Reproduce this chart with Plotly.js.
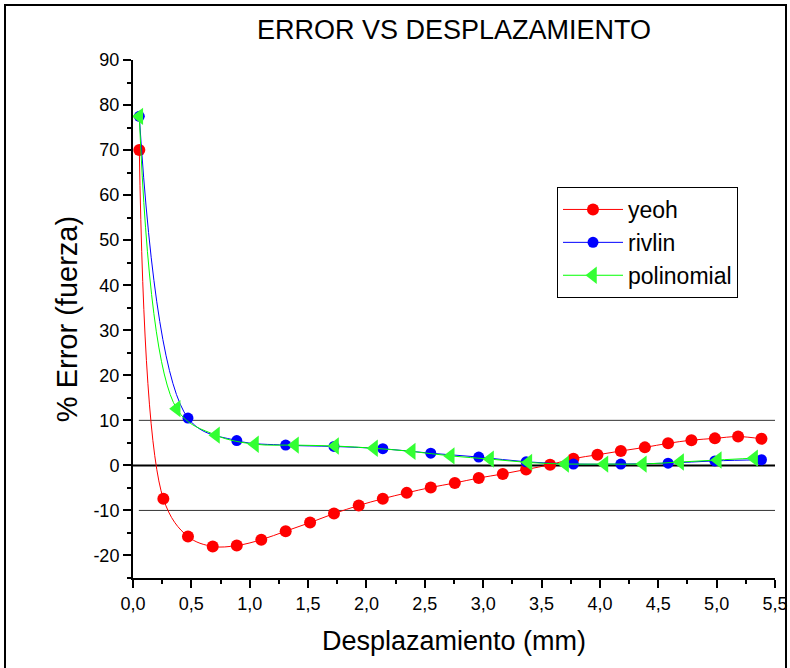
<!DOCTYPE html>
<html>
<head>
<meta charset="utf-8">
<script src="https://cdn.plot.ly/plotly-3.0.1.min.js"></script>
<style>html,body{margin:0;padding:0;background:#fff;}#chart{width:790px;height:668px;}</style>
</head>
<body>
<div id="chart"></div>
<script>
// ---- data ----
const yeohX = [0.054, 0.26, 0.471, 0.683, 0.889, 1.099, 1.308, 1.517, 1.722, 1.934, 2.14, 2.345, 2.551, 2.757, 2.962, 3.168, 3.368, 3.573, 3.773, 3.979, 4.179, 4.385, 4.584, 4.784, 4.985, 5.184, 5.384];
const yeohY = [70.0, -7.4, -15.8, -18.0, -17.8, -16.5, -14.6, -12.7, -10.7, -8.9, -7.4, -6.1, -4.9, -3.9, -2.8, -1.9, -0.9, 0.15, 1.5, 2.35, 3.2, 4.0, 4.9, 5.6, 6.0, 6.4, 5.9];

const rivlinX = [0.054, 0.471, 0.889, 1.308, 1.722, 2.14, 2.551, 2.962, 3.368, 3.773, 4.179, 4.584, 4.985, 5.384];
const rivlinY = [77.5, 10.5, 5.5, 4.5, 4.2, 3.7, 2.7, 1.85, 0.8, 0.3, 0.3, 0.5, 1.0, 1.25];

const poliX = [0.054, 0.374, 0.711, 1.045, 1.388, 1.731, 2.065, 2.388, 2.722, 3.059, 3.387, 3.702, 4.039, 4.368, 4.687, 5.01, 5.321];
const poliY = [77.5, 12.6, 6.7, 4.7, 4.5, 4.3, 3.8, 3.1, 2.1, 1.4, 0.65, 0.3, 0.3, 0.3, 0.75, 1.2, 1.6];

const seriesNames = ["yeoh", "rivlin", "polinomial"];

const refLevels = [10, 0, -10];

const xTickVals = [0, 0.5, 1, 1.5, 2, 2.5, 3, 3.5, 4, 4.5, 5, 5.5];
const xTickText = ["0,0", "0,5", "1,0", "1,5", "2,0", "2,5", "3,0", "3,5", "4,0", "4,5", "5,0", "5,5"];
const yTickVals = [-20, -10, 0, 10, 20, 30, 40, 50, 60, 70, 80, 90];
const yTickText = ["-20", "-10", "0", "10", "20", "30", "40", "50", "60", "70", "80", "90"];

// ---- chart ----
const FONT = "Liberation Sans, Arial, sans-serif";
const PL = 133, PR = 775, PT = 60, PB = 578;
const PW = PR - PL, PH = PB - PT;

const traces = [
  {x: yeohX, y: yeohY, name: seriesNames[0], type: "scatter", mode: "lines+markers",
   line: {color: "#ff0000", width: 1, shape: "spline", smoothing: 1},
   marker: {color: "#ff0000", size: 12, symbol: "circle"}},
  {x: rivlinX, y: rivlinY, name: seriesNames[1], type: "scatter", mode: "lines+markers",
   line: {color: "#0000ff", width: 1, shape: "spline", smoothing: 1},
   marker: {color: "#0000ff", size: 11, symbol: "circle"}},
  {x: poliX, y: poliY, name: seriesNames[2], type: "scatter", mode: "lines+markers",
   line: {color: "#00ff00", width: 1, shape: "spline", smoothing: 1},
   marker: {color: "#33ff33", size: 15, symbol: "triangle-left"}}
];

const shapes = refLevels.map(v => ({
  type: "line", xref: "x", yref: "y",
  x0: v === 0 ? 0 : 0.05, x1: 5.5, y0: v, y1: v,
  line: {color: v === 0 ? "#000000" : "#333333", width: v === 0 ? 2 : 1},
  layer: "below"
}));
// outer frame of the picture
shapes.push({type: "rect", xref: "paper", yref: "paper",
  x0: (5 - PL) / PW, x1: (786 - PL) / PW, y0: -0.3, y1: (PB - 5) / PH,
  line: {color: "#000", width: 2}, fillcolor: "rgba(0,0,0,0)", layer: "below"});

const layout = {
  width: 790, height: 668,
  margin: {l: PL, r: 790 - PR, t: PT, b: 668 - PB},
  paper_bgcolor: "#ffffff", plot_bgcolor: "#ffffff",
  font: {family: FONT, color: "#000"},
  separators: ",.",
  showlegend: true,
  title: {text: "ERROR VS DESPLAZAMIENTO", font: {family: FONT, size: 27, color: "#000"},
          x: 0.5, xref: "paper", y: 1 - 30 / 668, yref: "container", yanchor: "middle"},
  xaxis: {range: [0, 5.5], showgrid: false, zeroline: false,
          showline: true, linecolor: "#000", linewidth: 2,
          tickmode: "array", tickvals: xTickVals, ticktext: xTickText,
          ticks: "outside", ticklen: 8, tickwidth: 2, tickcolor: "#000",
          tickfont: {family: FONT, size: 18, color: "#000"},
          minor: {tick0: 0, dtick: 0.25, ticks: "outside", ticklen: 4, tickwidth: 2, tickcolor: "#000"},
          title: {text: "Desplazamiento (mm)", font: {family: FONT, size: 27, color: "#000"}, standoff: 19}},
  yaxis: {range: [-25, 90], showgrid: false, zeroline: false,
          showline: true, linecolor: "#000", linewidth: 2,
          tickmode: "array", tickvals: yTickVals, ticktext: yTickText,
          ticks: "outside", ticklen: 8, tickwidth: 2, tickcolor: "#000",
          tickfont: {family: FONT, size: 18, color: "#000"},
          minor: {tick0: 0, dtick: 5, ticks: "outside", ticklen: 4, tickwidth: 2, tickcolor: "#000"},
          title: {text: "% Error (fuerza)", font: {family: FONT, size: 29, color: "#000"}, standoff: 7}},
  legend: {x: (557 - PL) / PW, y: (PB - 187) / PH, xanchor: "left", yanchor: "top",
           bgcolor: "#fff", bordercolor: "#000", borderwidth: 1,
           font: {family: FONT, size: 23, color: "#000"}, itemwidth: 60,
           tracegroupgap: 0},
  shapes: shapes
};

Plotly.newPlot("chart", traces, layout, {displayModeBar: false, staticPlot: true});
</script>
</body>
</html>
